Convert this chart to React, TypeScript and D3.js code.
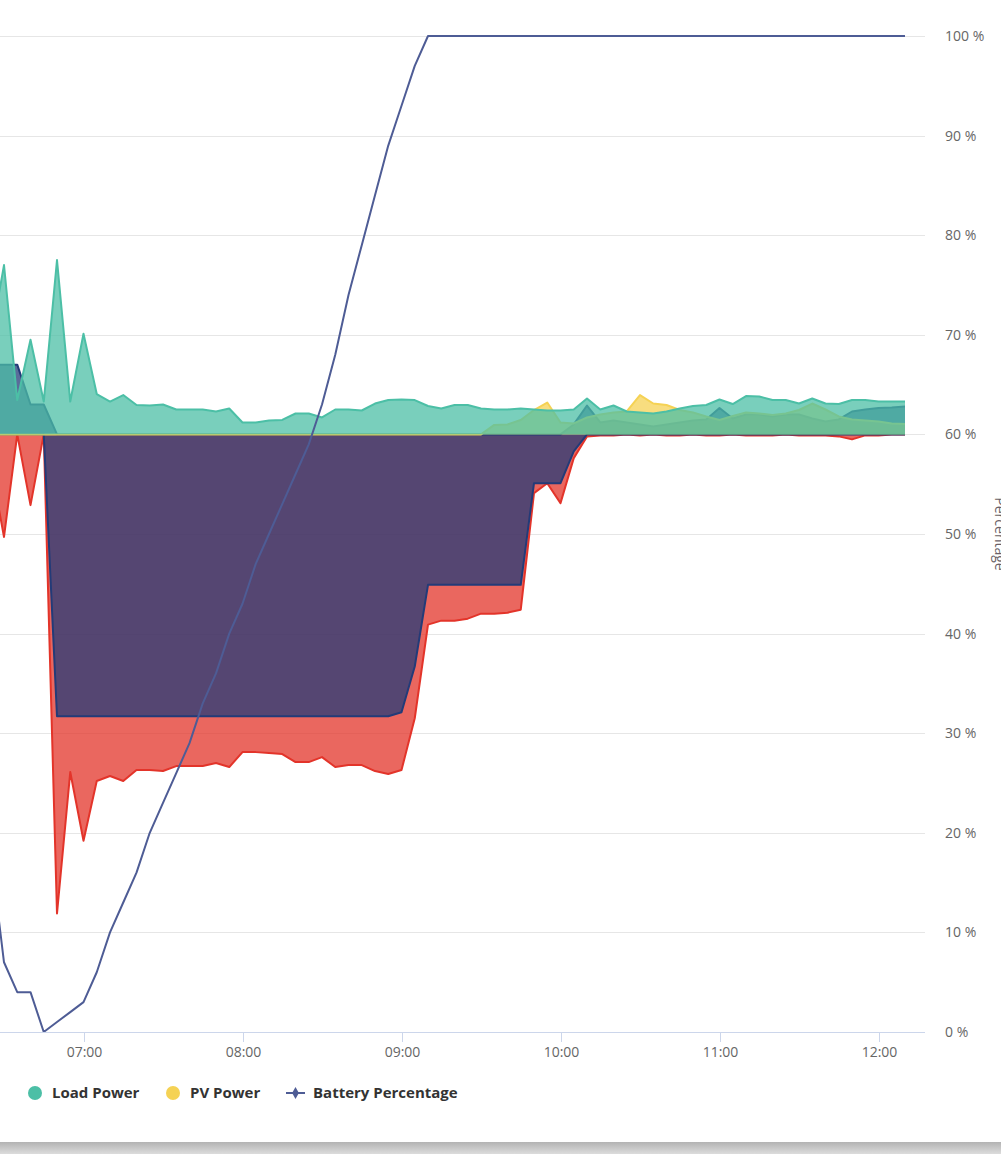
import React from "react";
import * as d3 from "d3";

// 5-minute samples
const times = [
  "06:25", "06:30", "06:35", "06:40", "06:45", "06:50", "06:55", "07:00", "07:05", "07:10",
  "07:15", "07:20", "07:25", "07:30", "07:35", "07:40", "07:45", "07:50", "07:55", "08:00",
  "08:05", "08:10", "08:15", "08:20", "08:25", "08:30", "08:35", "08:40", "08:45", "08:50",
  "08:55", "09:00", "09:05", "09:10", "09:15", "09:20", "09:25", "09:30", "09:35", "09:40",
  "09:45", "09:50", "09:55", "10:00", "10:05", "10:10", "10:15", "10:20", "10:25", "10:30",
  "10:35", "10:40", "10:45", "10:50", "10:55", "11:00", "11:05", "11:10", "11:15", "11:20",
  "11:25", "11:30", "11:35", "11:40", "11:45", "11:50", "11:55", "12:00", "12:05", "12:10",
];

// kW
const loadPower = [
  0.95, 1.7, 0.345, 0.95, 0.33, 1.75, 0.33, 1.01, 0.405, 0.33,
  0.395, 0.295, 0.29, 0.3, 0.25, 0.25, 0.25, 0.23, 0.26, 0.12,
  0.12, 0.14, 0.145, 0.21, 0.21, 0.17, 0.25, 0.25, 0.24, 0.31,
  0.345, 0.35, 0.345, 0.285, 0.26, 0.295, 0.295, 0.26, 0.25, 0.25,
  0.26, 0.25, 0.24, 0.24, 0.25, 0.36, 0.25, 0.29, 0.23, 0.22,
  0.21, 0.23, 0.26, 0.285, 0.295, 0.35, 0.305, 0.385, 0.38, 0.345,
  0.345, 0.31, 0.36, 0.31, 0.305, 0.345, 0.345, 0.33, 0.33, 0.33,
];

const pvPower = [
  0, 0, 0, 0, 0, 0, 0, 0, 0, 0,
  0, 0, 0, 0, 0, 0, 0, 0, 0, 0,
  0, 0, 0, 0, 0, 0, 0, 0, 0, 0,
  0, 0, 0, 0, 0, 0, 0, 0, 0.095, 0.1,
  0.145, 0.245, 0.32, 0.12, 0.11, 0.17, 0.2, 0.22, 0.23, 0.395,
  0.31, 0.295, 0.245, 0.22, 0.18, 0.145, 0.185, 0.22, 0.21, 0.195,
  0.21, 0.245, 0.31, 0.25, 0.18, 0.15, 0.14, 0.13, 0.11, 0.105,
];

const batteryDischarge = [
  0.7, 0.7, 0.7, 0.3, 0.3, 0, 0, 0, 0, 0,
  0, 0, 0, 0, 0, 0, 0, 0, 0, 0,
  0, 0, 0, 0, 0, 0, 0, 0, 0, 0,
  0, 0, 0, 0, 0, 0, 0, 0, 0, 0,
  0, 0, 0, 0, 0.1, 0.29, 0.12, 0.14, 0.12, 0.1,
  0.08, 0.1, 0.12, 0.14, 0.15, 0.265, 0.16, 0.2, 0.2, 0.18,
  0.2, 0.2, 0.16, 0.13, 0.15, 0.23, 0.25, 0.265, 0.27, 0.28,
];

const batteryCharge = [
  0, 0, 0, 0, 0, -2.83, -2.83, -2.83, -2.83, -2.83,
  -2.83, -2.83, -2.83, -2.83, -2.83, -2.83, -2.83, -2.83, -2.83, -2.83,
  -2.83, -2.83, -2.83, -2.83, -2.83, -2.83, -2.83, -2.83, -2.83, -2.83,
  -2.83, -2.79, -2.33, -1.51, -1.51, -1.51, -1.51, -1.51, -1.51, -1.51,
  -1.51, -0.49, -0.49, -0.49, -0.17, 0, 0, 0, 0, 0,
  0, 0, 0, 0, 0, 0, 0, 0, 0, 0,
  0, 0, 0, 0, 0, 0, 0, 0, 0, 0,
];

const gridPower = [
  -0.3, -1.03, 0, -0.71, 0, -4.81, -3.39, -4.08, -3.48, -3.43,
  -3.48, -3.37, -3.37, -3.38, -3.33, -3.33, -3.33, -3.3, -3.34, -3.19,
  -3.19, -3.2, -3.21, -3.29, -3.29, -3.24, -3.34, -3.32, -3.32, -3.38,
  -3.41, -3.37, -2.85, -1.91, -1.87, -1.87, -1.85, -1.8, -1.8, -1.79,
  -1.76, -0.59, -0.49, -0.69, -0.24, -0.02, -0.01, -0.01, 0, -0.01,
  0, -0.01, -0.01, 0, -0.01, -0.01, 0, -0.01, -0.01, -0.01,
  0, -0.01, -0.01, -0.01, -0.02, -0.05, -0.01, -0.01, 0, 0,
];

// %
const batteryPercentage = [
  18, 7, 4, 4, 0, 1, 2, 3, 6, 10,
  13, 16, 20, 23, 26, 29, 33, 36, 40, 43,
  47, 50, 53, 56, 59, 63, 68, 74, 79, 84,
  89, 93, 97, 100, 100, 100, 100, 100, 100, 100,
  100, 100, 100, 100, 100, 100, 100, 100, 100, 100,
  100, 100, 100, 100, 100, 100, 100, 100, 100, 100,
  100, 100, 100, 100, 100, 100, 100, 100, 100, 100,
];

const hourTicks = ["07:00", "08:00", "09:00", "10:00", "11:00", "12:00"];
const percentTicks = [0, 10, 20, 30, 40, 50, 60, 70, 80, 90, 100];
const powerDomain = [-6, 4];

const legendItems = [
  { label: "Load Power", color: "#4cbfa6", kind: "dot" },
  { label: "PV Power", color: "#f5d254", kind: "dot" },
  { label: "Battery Percentage", color: "#4e5c95", kind: "line" },
];

const W = 1001;
const H = 1154;
const plotLeft = -20;
const plotRight = 925;
const plotTop = 36;
const plotBottom = 1032;
const legendX = [28, 166, 286];
const font = "'Open Sans', sans-serif";

export default function App() {
  const parse = d3.timeParse("%H:%M");
  const dates = times.map((t) => parse(t) as Date);

  const x = d3
    .scaleTime()
    .domain([parse("07:00") as Date, parse("12:00") as Date])
    .range([83.5, 878.5]);
  const yPct = d3.scaleLinear().domain([0, 100]).range([plotBottom, plotTop]);
  const yPow = d3.scaleLinear().domain(powerDomain).range([plotBottom, plotTop]);

  const areaSeries = [
    { values: gridPower, color: "#e3342a" },
    { values: batteryCharge, color: "#233b78" },
    { values: batteryDischarge, color: "#233b78" },
    { values: pvPower, color: "#f5d254" },
    { values: loadPower, color: "#4cbfa6" },
  ];

  const area = d3
    .area<number>()
    .x((_, i) => x(dates[i]))
    .y0(yPow(0))
    .y1((d) => yPow(d));
  const edge = d3
    .line<number>()
    .x((_, i) => x(dates[i]))
    .y((d) => yPow(d));
  const pctLine = d3
    .line<number>()
    .x((_, i) => x(dates[i]))
    .y((d) => yPct(d));

  return (
    <svg
      width={W}
      height={H}
      style={{ position: "absolute", left: 0, top: 0, fontFamily: font }}
    >
      <defs>
        <linearGradient id="shadow" x1="0" y1="0" x2="0" y2="1">
          <stop offset="0%" stopColor="#b3b3b3" />
          <stop offset="100%" stopColor="#dcdcdc" />
        </linearGradient>
      </defs>
      <rect x={0} y={0} width={W} height={H} fill="#ffffff" />
      <rect x={0} y={1142} width={W} height={H - 1142} fill="url(#shadow)" />

      {/* grid lines */}
      {percentTicks
        .filter((t) => t > 0)
        .map((t) => (
          <line
            key={t}
            x1={plotLeft}
            x2={plotRight}
            y1={Math.round(yPct(t)) + 0.5}
            y2={Math.round(yPct(t)) + 0.5}
            stroke="#e6e6e6"
          />
        ))}

      {/* power areas */}
      {areaSeries.map((s, i) => (
        <g key={i}>
          <path d={area(s.values) ?? ""} fill={s.color} fillOpacity={0.75} />
          <path
            d={edge(s.values) ?? ""}
            fill="none"
            stroke={s.color}
            strokeWidth={2}
            strokeLinejoin="round"
          />
        </g>
      ))}

      {/* battery percentage */}
      <path
        d={pctLine(batteryPercentage) ?? ""}
        fill="none"
        stroke="#4e5c95"
        strokeWidth={2}
        strokeLinejoin="round"
      />

      {/* x axis */}
      <line
        x1={plotLeft}
        x2={plotRight}
        y1={plotBottom + 0.5}
        y2={plotBottom + 0.5}
        stroke="#ccd6eb"
      />
      {hourTicks.map((t) => {
        const tx = Math.round(x(parse(t) as Date)) + 0.5;
        return (
          <g key={t}>
            <line x1={tx} x2={tx} y1={plotBottom} y2={plotBottom + 10} stroke="#ccd6eb" />
            <text x={tx} y={1057} textAnchor="middle" fontSize={14} fill="#666666">
              {t}
            </text>
          </g>
        );
      })}

      {/* right percentage axis */}
      {percentTicks.map((t) => (
        <text key={t} x={945} y={yPct(t) + 5} fontSize={14} fill="#666666">
          {`${t} %`}
        </text>
      ))}
      <text
        transform={`translate(995, ${(plotTop + plotBottom) / 2}) rotate(90)`}
        textAnchor="middle"
        fontSize={14}
        fill="#6b5f66"
      >
        Percentage
      </text>

      {/* legend */}
      {legendItems.map((item, i) => {
        const lx = legendX[i];
        const cy = 1093;
        return (
          <g key={item.label}>
            {item.kind === "dot" ? (
              <circle cx={lx + 7} cy={cy} r={7} fill={item.color} />
            ) : (
              <g>
                <line x1={lx} x2={lx + 19} y1={cy} y2={cy} stroke={item.color} strokeWidth={2} />
                <path
                  d={d3.symbol(d3.symbolDiamond, 40)() ?? ""}
                  transform={`translate(${lx + 9.5}, ${cy})`}
                  fill={item.color}
                />
              </g>
            )}
            <text
              x={lx + (item.kind === "dot" ? 24 : 27)}
              y={1098}
              fontSize={15}
              fontWeight="bold"
              fill="#333333"
            >
              {item.label}
            </text>
          </g>
        );
      })}
    </svg>
  );
}
